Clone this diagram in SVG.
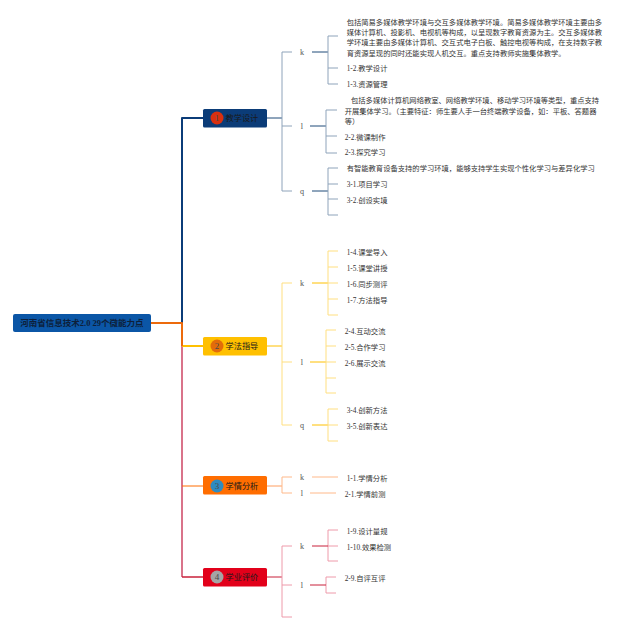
<svg xmlns="http://www.w3.org/2000/svg" width="640" height="630" viewBox="0 0 640 630">
<style>
text{font-family:"Liberation Serif","Noto Sans CJK SC",serif;font-size:7.3px;fill:#333}
.n{font-family:"Noto Sans CJK SC","Liberation Sans",sans-serif;font-size:8.2px;fill:#1a1a1a}
.r{font-family:"Liberation Serif","Noto Sans CJK SC",serif;font-size:8.5px;font-weight:700;fill:#0d1f3a}
.m{text-anchor:middle;font-size:8.2px;fill:#555}
.c{font-size:9px;fill:#4a4a4a;text-anchor:middle}
path{fill:none;stroke-linejoin:round}
.a{stroke:#8ea3ba;stroke-width:1}.a2{stroke:#1f4a78;stroke-width:1}
.b{stroke:#ffdf80;stroke-width:1}.b2{stroke:#ffc000;stroke-width:1}
.d{stroke:#ffb98a;stroke-width:1}.d2{stroke:#ff9e60;stroke-width:1}
.e{stroke:#ee9aaa;stroke-width:1}.e2{stroke:#c8203a;stroke-width:1}
</style>
<rect width="640" height="630" fill="#fff"/>
<g id="connectors">
<path d="M182 323V118H203" stroke="#0b3c78" stroke-width="2"/>
<path d="M182 346V577" stroke="#d9738a" stroke-width="2"/>
<path d="M182 346H203" stroke="#ffc000" stroke-width="2"/>
<path d="M182 486H203" stroke="#ff6d00" stroke-width="1"/>
<path d="M182 577H203" stroke="#c8203a" stroke-width="1.500"/>
<path d="M150 323H182V346" stroke="#ec6a0c" stroke-width="2"/>
<path class="a2" d="M267 118H282"/>
<path class="a" d="M292 52H282V191H292M282 126H292"/>
<path class="a2" d="M312 52H328M310 126H326M312 191H328"/>
<path class="a" d="M338 36H328V84H338M328 68H338M337 110H326V153H337M326 136H337M338 168H328V215H338M328 184H338M328 199H338"/>
<path class="b2" d="M267 346H282"/>
<path class="b" d="M292 283H282V425H292M282 362H292"/>
<path class="b2" d="M312 283H328M310 362H326M312 425H328"/>
<path class="b" d="M338 251H328V315H338M328 267H338M328 283H338M328 299H338M336 330H326V393H336M326 346H336M326 362H336M326 378H336M338 409H328V441H338M328 425H338"/>
<path class="d2" d="M267 486H282"/>
<path class="d" d="M292 477H282V493H292M312 477H338M310 493H336"/>
<path class="e2" d="M267 577H282"/>
<path class="e" d="M292 546H282V617H292M282 585H292M338 530H328V561H338M328 546H338M336 577H326V593H336"/>
<path class="e2" d="M312 546H328M310 585H326"/>
</g>
<g id="root"><rect x="13" y="314" width="138" height="18" rx="2" fill="#0b56a6"/><text class="r" x="82" y="326" text-anchor="middle">河南省信息技术2.0 29个微能力点</text></g>
<g id="node1"><rect x="203" y="109" width="64" height="18.500" rx="1.500" fill="#0b3c78"/><circle cx="217" cy="118" r="6.500" fill="#d9300f"/><text class="c" x="217" y="121">1</text><text class="n" x="225.500" y="121">教学设计</text></g>
<g id="node2"><rect x="203" y="337" width="64" height="18.500" rx="1.500" fill="#ffc000"/><circle cx="217" cy="346" r="6.500" fill="#e36c09"/><text class="c" x="217" y="349">2</text><text class="n" x="225.500" y="349">学法指导</text></g>
<g id="node3"><rect x="203" y="476" width="64" height="18.500" rx="1.500" fill="#ff6d00"/><circle cx="217" cy="486" r="6.500" fill="#2e8bc0"/><text class="c" x="217" y="489">3</text><text class="n" x="225.500" y="489">学情分析</text></g>
<g id="node4"><rect x="203" y="568" width="64" height="18.500" rx="1.500" fill="#e2001a"/><circle cx="217" cy="577" r="6.500" fill="#a5a5a5"/><text class="c" x="217" y="580">4</text><text class="n" x="225.500" y="580">学业评价</text></g>
<g id="labels1">
<text class="m" x="302" y="55">k</text><text class="m" x="302" y="129">l</text><text class="m" x="302" y="194">q</text>
<text x="346.700" y="24.500">包括简易多媒体教学环境与交互多媒体教学环境。简易多媒体教学环境主要由多</text>
<text x="346.700" y="35">媒体计算机、投影机、电视机等构成，以呈现数字教育资源为主。交互多媒体教</text>
<text x="346.700" y="45">学环境主要由多媒体计算机、交互式电子白板、触控电视等构成，在支持数字教</text>
<text x="346.700" y="56">育资源呈现的同时还能实现人机交互。重点支持教师实施集体教学。</text>
<text x="346.700" y="71">1-2.教学设计</text>
<text x="346.700" y="87">1-3.资源管理</text>
<text x="351" y="103">包括多媒体计算机网络教室、网络教学环境、移动学习环境等类型，重点支持</text>
<text x="344.700" y="114">开展集体学习。（主要特征：师生要人手一台终端教学设备，如：平板、答题器</text>
<text x="344.700" y="124">等）</text>
<text x="344.700" y="139.500">2-2.微课制作</text>
<text x="344.700" y="155">2-3.探究学习</text>
<text x="346.700" y="171">有智能教育设备支持的学习环境，能够支持学生实现个性化学习与差异化学习</text>
<text x="346.700" y="187">3-1.项目学习</text>
<text x="346.700" y="202.500">3-2.创设实境</text>
</g>
<g id="labels2">
<text class="m" x="302" y="286">k</text><text class="m" x="302" y="365">l</text><text class="m" x="302" y="428">q</text>
<text x="346.700" y="255">1-4.课堂导入</text>
<text x="346.700" y="271">1-5.课堂讲授</text>
<text x="346.700" y="287">1-6.同步测评</text>
<text x="346.700" y="303">1-7.方法指导</text>
<text x="344.700" y="334">2-4.互动交流</text>
<text x="344.700" y="350">2-5.合作学习</text>
<text x="344.700" y="366">2-6.展示交流</text>
<text x="346.700" y="413">3-4.创新方法</text>
<text x="346.700" y="429">3-5.创新表达</text>
</g>
<g id="labels3">
<text class="m" x="302" y="480">k</text><text class="m" x="302" y="496">l</text>
<text x="346.700" y="481">1-1.学情分析</text>
<text x="344.700" y="497">2-1.学情前测</text>
</g>
<g id="labels4">
<text class="m" x="302" y="549">k</text><text class="m" x="302" y="588">l</text>
<text x="346.700" y="533.500">1-9.设计量规</text>
<text x="346.700" y="549.500">1-10.效果检测</text>
<text x="344.700" y="581">2-9.自评互评</text>
</g>
</svg>
